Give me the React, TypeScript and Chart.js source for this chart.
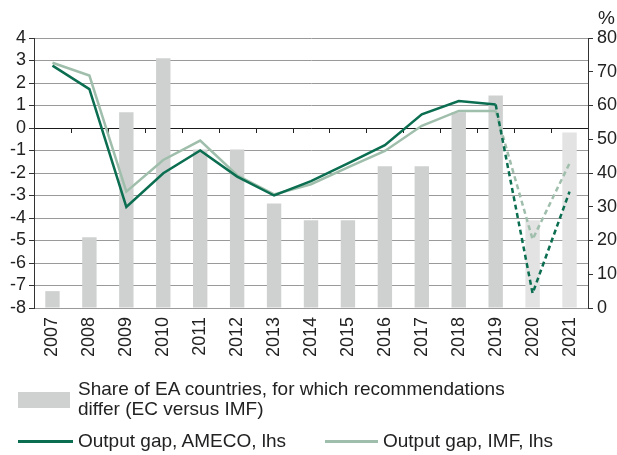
import React, { useEffect, useRef } from 'react';
import { Chart, registerables } from 'chart.js';

Chart.register(...registerables);

const years = ['2007', '2008', '2009', '2010', '2011', '2012', '2013', '2014', '2015', '2016', '2017', '2018', '2019', '2020', '2021'];
const shareDiffer = [5, 21, 58, 74, 47, 47, 31, 26, 26, 42, 42, 58, 63, 26, 52];
const gapAmeco = [2.77, 1.73, -3.51, -2.01, -1.0, -2.16, -3.0, -2.36, -1.57, -0.76, 0.61, 1.2, 1.04, -7.35, -2.83];
const gapImf = [2.9, 2.33, -2.83, -1.42, -0.56, -2.1, -2.95, -2.5, -1.75, -1.02, 0.1, 0.76, 0.76, -4.95, -1.57];
const forecastFrom = 12; // segments after 2019 are dashed; bars of 2020-2021 lighter
const leftMin = -8;
const leftMax = 4;
const rightMin = 0;
const rightMax = 80;

const FONT = '"Liberation Sans", Arial, Helvetica, sans-serif';
const TEXT = '#222';
const AMECO_COLOR = '#0b6e50';
const IMF_COLOR = '#9fbeab';
const BAR_COLOR = '#cfd1d0';
const BAR_LIGHT = '#e2e3e2';

const zeroTicks = {
  id: 'zeroTicks',
  beforeDatasetsDraw(chart: any) {
    const x = chart.scales.x;
    const y = chart.scales.y;
    const ctx = chart.ctx;
    const y0 = y.getPixelForValue(0);
    const n = years.length;
    const w = (x.right - x.left) / n;
    ctx.save();
    ctx.strokeStyle = '#222';
    ctx.lineWidth = 1;
    ctx.beginPath();
    for (let k = 1; k < n; k++) {
      const px = Math.round(x.left + k * w) + 0.5;
      ctx.moveTo(px, y0);
      ctx.lineTo(px, y0 + 5);
    }
    ctx.stroke();
    ctx.restore();
  },
};

export default function App() {
  const ref = useRef<HTMLCanvasElement | null>(null);

  useEffect(() => {
    if (!ref.current) return;
    const dashed = (ctx: any) => (ctx.p0DataIndex >= forecastFrom ? [5, 3.5] : undefined);
    const chart = new Chart(ref.current, {
      type: 'bar',
      data: {
        labels: years,
        datasets: [
          {
            type: 'line',
            label: 'Output gap, AMECO, lhs',
            data: gapAmeco,
            yAxisID: 'y',
            borderColor: AMECO_COLOR,
            borderWidth: 2.5,
            pointRadius: 0,
            tension: 0,
            segment: { borderDash: dashed },
            order: 1,
          } as any,
          {
            type: 'line',
            label: 'Output gap, IMF, lhs',
            data: gapImf,
            yAxisID: 'y',
            borderColor: IMF_COLOR,
            borderWidth: 2.5,
            pointRadius: 0,
            tension: 0,
            segment: { borderDash: dashed },
            order: 2,
          } as any,
          {
            type: 'bar',
            label: 'Share of EA countries, for which recommendations differ (EC versus IMF)',
            data: shareDiffer,
            yAxisID: 'y2',
            backgroundColor: shareDiffer.map((_, i) => (i > forecastFrom ? BAR_LIGHT : BAR_COLOR)),
            categoryPercentage: 1,
            barPercentage: 0.39,
            order: 3,
          },
        ],
      },
      options: {
        responsive: false,
        animation: false,
        layout: { padding: { top: 38, left: 0, right: 0, bottom: 0 } },
        plugins: { legend: { display: false }, tooltip: { enabled: false } },
        scales: {
          x: {
            grid: { display: false, drawTicks: false },
            border: { display: true, color: '#9a9a9a' },
            ticks: {
              minRotation: 90,
              maxRotation: 90,
              autoSkip: false,
              padding: 9,
              color: TEXT,
              font: { family: FONT, size: 18 },
            },
            afterFit(scale: any) {
              scale.height = 147;
            },
          },
          y: {
            position: 'left',
            min: leftMin,
            max: leftMax,
            ticks: {
              stepSize: 1,
              autoSkip: false,
              padding: 3,
              color: TEXT,
              font: { family: FONT, size: 18 },
            },
            grid: {
              color: (c: any) => (c.tick && c.tick.value === 0 ? '#1a1a1a' : '#9a9a9a'),
              lineWidth: 1,
              tickLength: 5,
              tickColor: '#333',
            },
            border: { display: true, color: '#333' },
            afterFit(scale: any) {
              scale.width = 34;
            },
          },
          y2: {
            position: 'right',
            min: rightMin,
            max: rightMax,
            ticks: {
              stepSize: 10,
              autoSkip: false,
              padding: 4,
              color: TEXT,
              font: { family: FONT, size: 18 },
            },
            grid: {
              drawOnChartArea: false,
              tickLength: 5,
              tickColor: '#333',
            },
            border: { display: true, color: '#333' },
            afterFit(scale: any) {
              scale.width = 29;
            },
          },
        },
      },
      plugins: [zeroTicks],
    });
    return () => chart.destroy();
  }, []);

  const textStyle: React.CSSProperties = {
    position: 'absolute',
    fontFamily: FONT,
    fontSize: 19,
    color: TEXT,
    lineHeight: '20px',
    whiteSpace: 'nowrap',
  };

  return (
    <div style={{ position: 'relative', width: 617, height: 455, overflow: 'hidden', background: '#fff' }}>
      <style>{'body{margin:0}'}</style>
      <canvas ref={ref} width={617} height={455} style={{ position: 'absolute', left: 0, top: 0 }} />
      <div style={{ ...textStyle, left: 598, top: 8 }}>%</div>
      <div style={{ position: 'absolute', left: 18, top: 392, width: 52, height: 16, background: BAR_COLOR }} />
      <div style={{ ...textStyle, left: 78, top: 379 }}>
        Share of EA countries, for which recommendations
        <br />
        differ (EC versus IMF)
      </div>
      <div style={{ position: 'absolute', left: 18, top: 440, width: 55, height: 3, background: AMECO_COLOR }} />
      <div style={{ ...textStyle, left: 78, top: 431 }}>Output gap, AMECO, lhs</div>
      <div style={{ position: 'absolute', left: 325, top: 440, width: 53, height: 3, background: IMF_COLOR }} />
      <div style={{ ...textStyle, left: 383, top: 431 }}>Output gap, IMF, lhs</div>
    </div>
  );
}
